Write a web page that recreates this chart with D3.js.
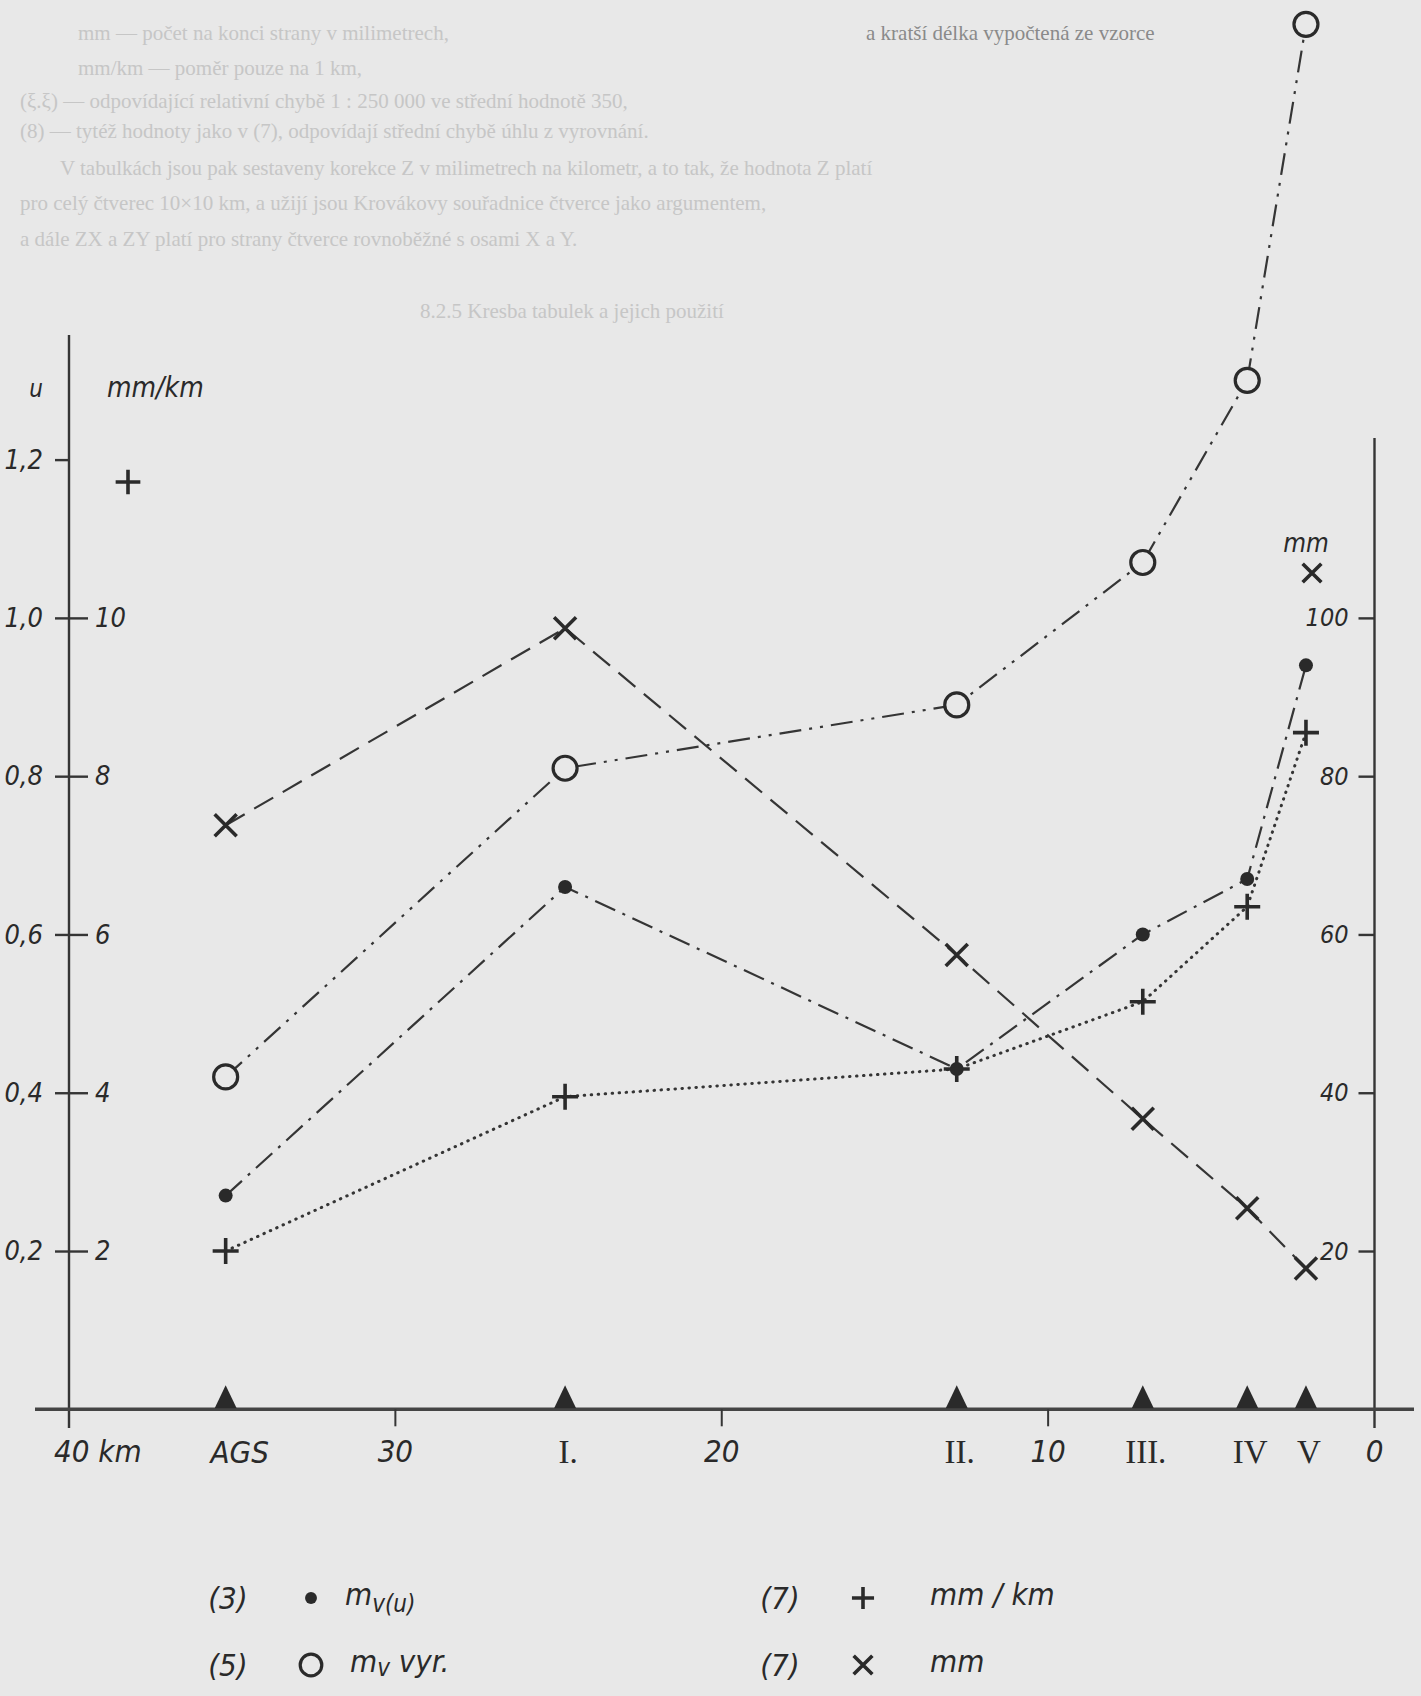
<!DOCTYPE html>
<html><head><meta charset="utf-8">
<script src="https://cdn.jsdelivr.net/npm/d3@7"></script>
<style>
html,body{margin:0;padding:0;background:#e8e8e8;}
svg{display:block;}
</style></head><body>
<svg id="c" width="1421" height="1696"></svg>
<script>
// ---- data ----
const stationNames = ["AGS","I.","II.","III.","IV","V"];
const stationKm    = [35.2, 24.8, 12.8, 7.1, 3.9, 2.1];
const mvU      = [0.27, 0.66, 0.43, 0.60, 0.67, 0.94];   // (3) •  m_v(u)   [u]
const mvVyr    = [0.42, 0.81, 0.89, 1.07, 1.30, 1.75];   // (5) ○  m_v vyr. [u]
const corrMmKm = [2.0, 3.95, 4.3, 5.15, 6.35, 8.55];     // (7) +  mm/km
const corrMm   = [73.8, 98.7, 57.4, 36.7, 25.4, 17.8];   // (7) ×  mm
const kmTicks = [40, 30, 20, 10, 0];
const kmTickLabels = ["40 km", "30", "20", "10", "0"];
const uTicks = [0.2, 0.4, 0.6, 0.8, 1.0, 1.2];
const mmKmTicks = [2, 4, 6, 8, 10];
const mmTicks = [20, 40, 60, 80, 100];
const pageLines = [
  "mm         —  počet na konci strany v milimetrech,",
  "mm/km      —  poměr pouze na 1 km,",
  "(ξ.ξ)   —  odpovídající relativní chybě 1 : 250 000 ve střední hodnotě 350,",
  "(8)        —  tytéž hodnoty jako v (7), odpovídají střední chybě úhlu z vyrovnání.",
  "V tabulkách jsou pak sestaveny korekce Z v milimetrech na kilometr, a to tak, že hodnota Z platí",
  "pro celý čtverec 10×10 km, a užijí jsou Krovákovy souřadnice čtverce jako argumentem,",
  "a dále ZX a ZY platí pro strany čtverce rovnoběžné s osami X a Y."
];

const W = 1421, H = 1696;
const svg = d3.select("#c");
const INK = "#353535";
const BG = "#e8e8e8";
const FONT = "'DejaVu Sans Condensed','Liberation Sans Narrow','DejaVu Sans',sans-serif";
const comma = d => d3.format(".1f")(d).replace(".", ",");

svg.append("rect").attr("width", W).attr("height", H).attr("fill", BG);

// faint page text above the figure
const pg = svg.append("g").attr("font-family", "'Liberation Serif','DejaVu Serif',serif")
  .attr("font-size", 21).attr("fill", "#c6c6c6");
pg.append("text").attr("x", 866).attr("y", 40).attr("fill", "#8a8a8a").text("a kratší délka vypočtená ze vzorce");
const lineY = [40, 75, 108, 138, 175, 210, 246];
const lineX = [78, 78, 20, 20, 60, 20, 20];
pageLines.forEach((t, i) => {
  pg.append("text").attr("x", lineX[i]).attr("y", lineY[i]).text(t);
});
pg.append("text").attr("x", 420).attr("y", 318).text("8.2.5 Kresba tabulek a jejich použití");

// ---- scales ----
const x  = d3.scaleLinear().domain([40, 0]).range([69, 1374.5]);
const yU = d3.scaleLinear().domain([0, 1.2]).range([1409.3, 459.6]);
const yK = d3.scaleLinear().domain([0, 12]).range([1409.3, 459.6]);
const yM = d3.scaleLinear().domain([0, 120]).range([1409.3, 459.6]);
const baseY = yU(0);

const g = svg.append("g");

// ---- vertical axes ----
g.append("line").attr("x1", x(40)).attr("x2", x(40)).attr("y1", 335).attr("y2", 1428)
  .attr("stroke", INK).attr("stroke-width", 2.4);
g.append("line").attr("x1", x(0)).attr("x2", x(0)).attr("y1", 438).attr("y2", 1428)
  .attr("stroke", INK).attr("stroke-width", 2.4);

function styleAxis(sel, size) {
  sel.select(".domain").remove();
  sel.selectAll("line").attr("stroke", INK).attr("stroke-width", 2.4);
  sel.selectAll("text").attr("font-family", FONT).attr("font-style", "italic")
    .attr("font-size", size).attr("fill", "#2a2a2a");
}
// left outer: u
const axU = g.append("g").attr("transform", `translate(${x(40)},0)`)
  .call(d3.axisLeft(yU).tickValues(uTicks).tickFormat(comma).tickSize(14).tickPadding(12));
styleAxis(axU, 27);
// left inner: mm/km
const axK = g.append("g").attr("transform", `translate(${x(40)},0)`)
  .call(d3.axisRight(yK).tickValues(mmKmTicks).tickFormat(d3.format("d")).tickSize(19).tickPadding(7));
styleAxis(axK, 27);
// right: mm
const axM = g.append("g").attr("transform", `translate(${x(0)},0)`)
  .call(d3.axisLeft(yM).tickValues(mmTicks).tickFormat(d3.format("d")).tickSize(16).tickPadding(10));
styleAxis(axM, 25);

// unit captions
const cap = g.append("g").attr("font-family", FONT).attr("font-style", "italic").attr("fill", "#2a2a2a");
cap.append("text").attr("x", 36).attr("y", 397).attr("font-size", 24).attr("text-anchor", "middle").text("u");
cap.append("text").attr("x", 107).attr("y", 397).attr("font-size", 28).text("mm/km");
cap.append("text").attr("x", 1306).attr("y", 552).attr("font-size", 26).attr("text-anchor", "middle").text("mm");

// ---- baseline (km) ----
g.append("line").attr("x1", 35).attr("x2", 1414).attr("y1", baseY).attr("y2", baseY)
  .attr("stroke", "#444").attr("stroke-width", 3.6);
g.selectAll(".kt").data(kmTicks.filter(d => d !== 40 && d !== 0)).join("line")
  .attr("x1", d => x(d)).attr("x2", d => x(d)).attr("y1", baseY).attr("y2", baseY + 17)
  .attr("stroke", INK).attr("stroke-width", 2);
g.selectAll(".kl").data(kmTicks).join("text")
  .attr("x", (d, i) => i === 0 ? x(d) - 15 : x(d))
  .attr("y", 1462)
  .attr("text-anchor", (d, i) => i === 0 ? "start" : "middle")
  .attr("font-family", FONT).attr("font-style", "italic").attr("font-size", 31).attr("fill", "#2a2a2a")
  .text((d, i) => kmTickLabels[i]);

// station triangles and names
g.selectAll(".tri").data(stationKm).join("path")
  .attr("d", d => `M${x(d) - 11},${baseY - 1} L${x(d)},${baseY - 24} L${x(d) + 11},${baseY - 1} Z`)
  .attr("fill", "#2a2a2a");
g.selectAll(".sn").data(stationKm).join("text")
  .attr("x", (d, i) => x(d) + (i === 0 ? 14 : 3)).attr("y", 1463)
  .attr("text-anchor", "middle")
  .attr("font-family", (d, i) => i === 0 ? FONT : "'Liberation Serif','DejaVu Serif',serif")
  .attr("font-style", (d, i) => i === 0 ? "italic" : "normal")
  .attr("font-size", (d, i) => i === 0 ? 31 : 33).attr("fill", "#2a2a2a")
  .text((d, i) => stationNames[i]);

// ---- series ----
const series = [
  {vals: corrMm,   y: yM, dash: "22,11",              mark: "cross"},
  {vals: mvVyr,    y: yU, dash: "22,8,3,8,3,8",       mark: "open"},
  {vals: mvU,      y: yU, dash: "22,8,3,8",           mark: "dot"},
  {vals: corrMmKm, y: yK, dash: "0.5,6.5",            mark: "plus"}
];
const line = d3.line();
series.forEach(s => {
  const pts = s.vals.map((v, i) => [x(stationKm[i]), s.y(v)]);
  g.append("path").attr("d", line(pts)).attr("fill", "none").attr("stroke", INK)
    .attr("stroke-width", s.mark === "plus" ? 3 : 2.2)
    .attr("stroke-linecap", s.mark === "plus" ? "round" : "butt")
    .attr("stroke-dasharray", s.dash);
});

function drawMark(sel, type, cx, cy, scale = 1) {
  if (type === "open") {
    sel.append("circle").attr("cx", cx).attr("cy", cy).attr("r", 12 * scale)
      .attr("fill", BG).attr("stroke", "#2a2a2a").attr("stroke-width", 3.2);
  } else if (type === "dot") {
    sel.append("circle").attr("cx", cx).attr("cy", cy).attr("r", 7 * scale).attr("fill", "#2a2a2a");
  } else if (type === "plus") {
    const a = 13 * scale;
    sel.append("path").attr("d", `M${cx - a},${cy} H${cx + a} M${cx},${cy - a} V${cy + a}`)
      .attr("stroke", "#2a2a2a").attr("stroke-width", 3.6);
  } else if (type === "cross") {
    const a = 11 * scale;
    sel.append("path").attr("d", `M${cx - a},${cy - a} L${cx + a},${cy + a} M${cx - a},${cy + a} L${cx + a},${cy - a}`)
      .attr("stroke", "#2a2a2a").attr("stroke-width", 3.6);
  }
}
series.forEach(s => {
  s.vals.forEach((v, i) => drawMark(g, s.mark, x(stationKm[i]), s.y(v)));
});

// unit marker glyphs next to captions
drawMark(g, "plus", 128, 482, 0.95);
drawMark(g, "cross", 1312, 573, 0.85);

// ---- legend ----
const lg = svg.append("g").attr("font-family", FONT).attr("font-style", "italic").attr("fill", "#2a2a2a");
const legendRows = [
  {code: "(3)", mark: "dot",   x: 228, y: 1598},
  {code: "(5)", mark: "open",  x: 228, y: 1665},
  {code: "(7)", mark: "plus",  x: 780, y: 1598},
  {code: "(7)", mark: "cross", x: 780, y: 1665}
];
legendRows.forEach(r => {
  lg.append("text").attr("x", r.x).attr("y", r.y + 11).attr("text-anchor", "middle")
    .attr("font-size", 31).text(r.code);
  drawMark(lg, r.mark, r.x + 83, r.y, r.mark === "open" ? 0.9 : 0.85);
});
const t1 = lg.append("text").attr("x", 345).attr("y", 1605).attr("font-size", 31);
t1.append("tspan").text("m");
t1.append("tspan").attr("font-size", 24).attr("dy", 7).text("v(u)");
const t2 = lg.append("text").attr("x", 350).attr("y", 1672).attr("font-size", 31);
t2.append("tspan").text("m");
t2.append("tspan").attr("font-size", 24).attr("dy", 4).text("v");
t2.append("tspan").attr("dy", -4).text("  vyr.");
lg.append("text").attr("x", 930).attr("y", 1605).attr("font-size", 31).text("mm / km");
lg.append("text").attr("x", 930).attr("y", 1672).attr("font-size", 31).text("mm");
</script>
</body></html>
